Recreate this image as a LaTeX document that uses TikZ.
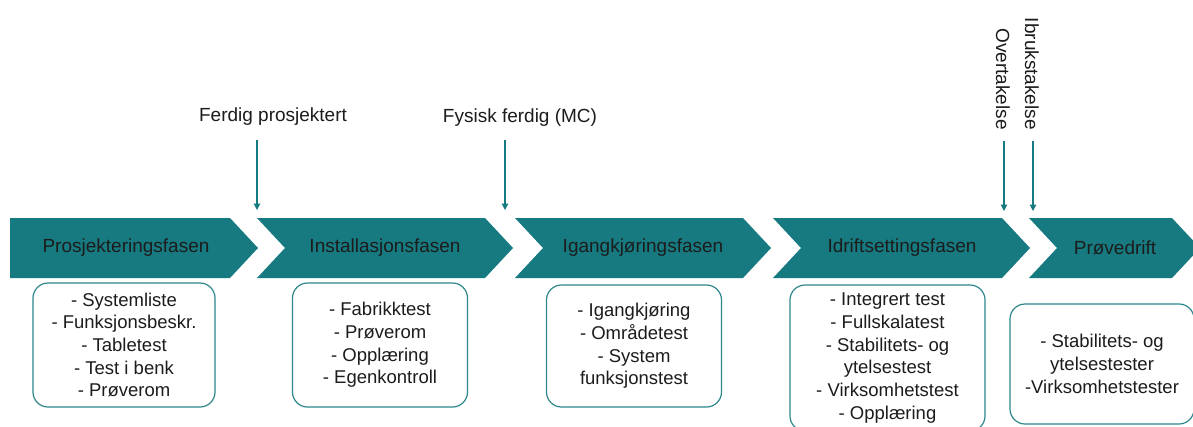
\documentclass[tikz,border=0pt]{standalone}
\usepackage{fontspec}
\setmainfont{Liberation Sans}
\usetikzlibrary{arrows.meta}
\definecolor{tealA}{RGB}{23,122,128}
\definecolor{tealB}{RGB}{45,135,140}
\definecolor{txt}{RGB}{28,28,28}
\begin{document}
\begin{tikzpicture}[x=1pt,y=-1pt,
  chev/.style={fill=tealA,draw=none},
  phase/.style={font=\fontsize{19}{23}\selectfont,text=txt,inner sep=0pt},
  itembox/.style={draw=tealB,line width=1.2pt,rounded corners=15pt,fill=white,
    font=\fontsize{18.5}{22.7}\selectfont,text=txt,align=center,inner sep=0pt},
  marker/.style={draw=tealA,line width=1.2pt,-{Triangle[width=6.5pt,length=6.5pt]}},
  mlabel/.style={font=\fontsize{19}{23}\selectfont,text=txt,inner sep=0pt}]
\useasboundingbox (0,0) rectangle (1193,426);
\fill[white] (0,0) rectangle (1193,426);
\clip (0,0) rectangle (1193,426);

% chevrons
\fill[chev] (10,218) -- (230,218) -- (258,248) -- (230,278) -- (10,278) -- cycle;
\fill[chev] (257,218) -- (485,218) -- (513,248) -- (485,278) -- (257,278) -- (285,248) -- cycle;
\fill[chev] (515,218) -- (743,218) -- (771,248) -- (743,278) -- (515,278) -- (543,248) -- cycle;
\fill[chev] (773,218) -- (1002,218) -- (1030,248) -- (1002,278) -- (773,278) -- (801,248) -- cycle;
\fill[chev] (1029,218) -- (1172,218) -- (1200,248) -- (1172,278) -- (1029,278) -- (1057,248) -- cycle;

% phase names
\node[phase] (p1) at (126,248) {Prosjekteringsfasen};
\node[phase] (p2) at (385,248) {Installasjonsfasen};
\node[phase] (p3) at (643,248) {Igangkjøringsfasen};
\node[phase] (p4) at (902,248) {Idriftsettingsfasen};
\node[phase] (p5) at (1115,248) {Prøvedrift};

% item boxes
\node[itembox,minimum width=182pt,minimum height=124pt] (b1) at (124,345)
  {- Systemliste\\- Funksjonsbeskr.\\- Tabletest\\- Test i benk\\- Prøverom};
\node[itembox,minimum width=175pt,minimum height=124pt] (b2) at (380,345)
  {- Fabrikktest\\- Prøverom\\- Opplæring\\- Egenkontroll};
\node[itembox,minimum width=175pt,minimum height=122pt] (b3) at (634,346)
  {- Igangkjøring\\- Områdetest\\- System\\funksjonstest};
\node[itembox,minimum width=195pt,minimum height=146pt] (b4) at (887.5,358)
  {- Integrert test\\- Fullskalatest\\- Stabilitets- og\\ytelsestest\\- Virksomhetstest\\- Opplæring};
\node[itembox,minimum width=184pt,minimum height=120pt] (b5) at (1102,364)
  {- Stabilitets- og\\ytelsestester\\-Virksomhetstester};

% milestone labels
\node[mlabel] (m1) at (273,117) {Ferdig prosjektert};
\node[mlabel] (m2) at (520,118) {Fysisk ferdig (MC)};
\node[mlabel,rotate=-90,anchor=east] (m3) at (1003,130) {Overtakelse};
\node[mlabel,rotate=-90,anchor=east] (m4) at (1032,130) {Ibrukstakelse};

% milestone arrows
\coordinate (s1) at (257,140); \coordinate (e1) at (257,210);
\coordinate (s2) at (505,140); \coordinate (e2) at (505,210);
\coordinate (s3) at (1004,141); \coordinate (e3) at (1004,211);
\coordinate (s4) at (1033,141); \coordinate (e4) at (1033,211);
\draw[marker] (s1) -- (e1);
\draw[marker] (s2) -- (e2);
\draw[marker] (s3) -- (e3);
\draw[marker] (s4) -- (e4);
\end{tikzpicture}
\end{document}
